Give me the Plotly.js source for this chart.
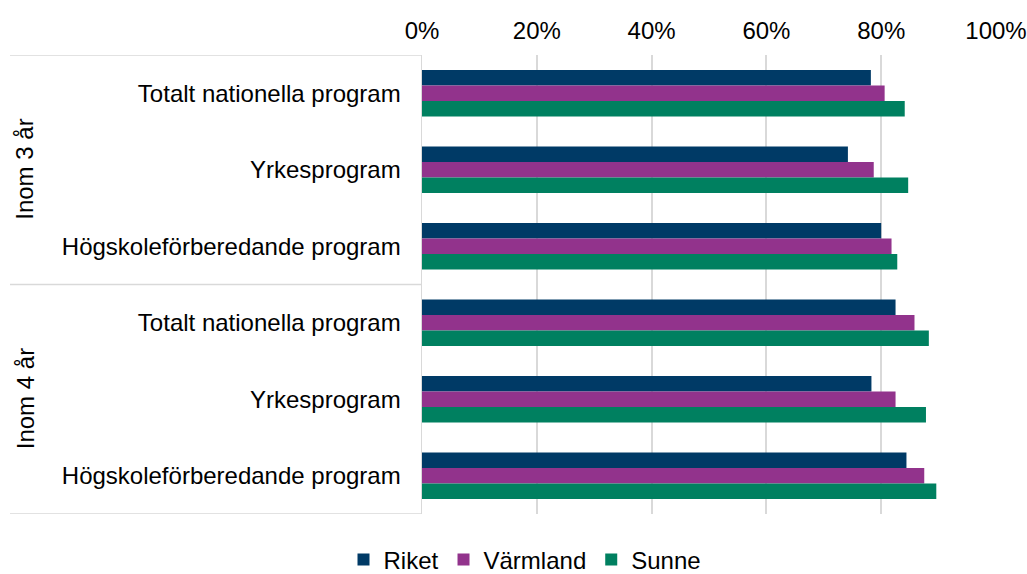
<!DOCTYPE html>
<html>
<head>
<meta charset="utf-8">
<script src="https://cdn.plot.ly/plotly-3.0.1.min.js"></script>
<style>html,body{margin:0;padding:0;background:#fff;}#chart{width:1027px;height:574px;}</style>
</head>
<body>
<div id="chart"></div>
<script>
// Data
var groups = ["Inom 3 år", "Inom 4 år"];
var programs = ["Totalt nationella program", "Yrkesprogram", "Högskoleförberedande program"];
var seriesNames = ["Riket", "Värmland", "Sunne"];
var riket    = [0.782, 0.742, 0.800, 0.825, 0.783, 0.844];
var varmland = [0.806, 0.787, 0.818, 0.858, 0.825, 0.875];
var sunne    = [0.841, 0.847, 0.828, 0.883, 0.878, 0.896];
var xTickVals = [0, 0.2, 0.4, 0.6, 0.8, 1.0];

var colors = ["#003A66", "#92338C", "#008060"];

// Row labels (program repeated for each group) and row positions
var rowLabels = [];
groups.forEach(function () { programs.forEach(function (p) { rowLabels.push(p); }); });
var rowPos = rowLabels.map(function (_, i) { return i; });

var values = [riket, varmland, sunne];
var traces = seriesNames.map(function (name, k) {
  return {
    type: "bar",
    orientation: "h",
    name: name,
    x: values[k],
    y: rowPos,
    marker: { color: colors[k] },
    hoverinfo: "x+name"
  };
});

var W = 1027, H = 574;
var mL = 422, mR = 31, mT = 55, mB = 60;
var plotW = W - mL - mR;
function px2paperX(px) { return (px - mL) / plotW; }

var FONT = "Liberation Sans, Arial, sans-serif";
var FS = 24;
var lineColor = "#d9d9d9";
var shapes = [];
// horizontal divider lines at top, between groups and bottom
var dividers = [-0.5];
groups.forEach(function (g, gi) { dividers.push((gi + 1) * programs.length - 0.5); });
dividers.forEach(function (yv) {
  shapes.push({
    type: "line", xref: "paper", yref: "y",
    x0: px2paperX(10), x1: 0, y0: yv, y1: yv,
    line: { color: lineColor, width: 1.5 }
  });
});

var annotations = groups.map(function (g, gi) {
  return {
    text: g, xref: "paper", yref: "y",
    x: px2paperX(25), y: gi * programs.length + (programs.length - 1) / 2,
    xanchor: "center", yanchor: "middle",
    textangle: -90, showarrow: false,
    font: { family: FONT, size: FS, color: "#000" }
  };
});

var layout = {
  width: W, height: H,
  margin: { l: mL, r: mR, t: mT, b: mB, pad: 0 },
  paper_bgcolor: "#fff", plot_bgcolor: "#fff",
  font: { family: FONT, size: FS, color: "#000" },
  barmode: "group",
  bargap: 0.39,
  bargroupgap: 0,
  showlegend: true,
  legend: {
    orientation: "h",
    xref: "container", x: 525 / W, xanchor: "center",
    yref: "container", y: (H - 560) / H, yanchor: "middle",
    font: { family: FONT, size: FS, color: "#000" },
    itemwidth: 30, traceorder: "normal",
    bgcolor: "rgba(0,0,0,0)"
  },
  xaxis: {
    side: "top", range: [0, 1], tickvals: xTickVals, tickformat: ".0%",
    showgrid: true, gridcolor: lineColor, gridwidth: 2,
    zeroline: false, showline: false, ticks: "", ticklabelstandoff: 10,
    fixedrange: true
  },
  yaxis: {
    range: [rowLabels.length - 0.5, -0.5],
    tickvals: rowPos, ticktext: rowLabels,
    showgrid: false, zeroline: false,
    showline: true, linecolor: lineColor, linewidth: 1.5,
    ticks: "", ticklabelstandoff: 15, fixedrange: true
  },
  shapes: shapes,
  annotations: annotations
};

Plotly.newPlot("chart", traces, layout, { displayModeBar: false, staticPlot: true });
</script>
</body>
</html>
